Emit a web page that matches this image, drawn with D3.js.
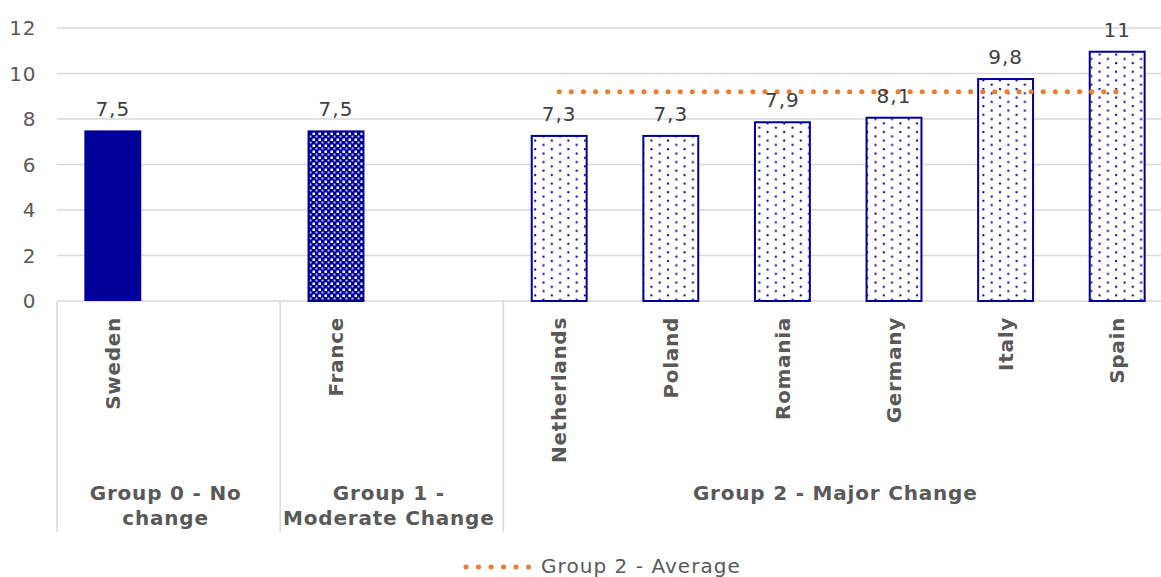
<!DOCTYPE html>
<html><head><meta charset="utf-8">
<script src="https://cdn.jsdelivr.net/npm/d3@7"></script>
<style>body{margin:0;background:#fff;overflow:hidden}svg{display:block}text{font-family:"DejaVu Sans",Verdana,sans-serif}</style>
</head><body><svg id="c" width="1161" height="577"></svg>
<script>
const categories = ["Sweden","","France","","Netherlands","Poland","Romania","Germany","Italy","Spain"];
const values = [7.5,null,7.5,null,7.3,7.3,7.9,8.1,9.8,11];
const labels = ["7,5","","7,5","","7,3","7,3","7,9","8,1","9,8","11"];
const fills = ["solid","","grid","","dots","dots","dots","dots","dots","dots"];
const groups = [["Group 0 - No","change"],["Group 1 -","Moderate Change"],["Group 2 - Major Change"]];
const groupSpans = [[0,1],[2,3],[4,9]];
const avgValue = 9.2;
const avgSpan = [4,9];
const yTicks = [0,2,4,6,8,10,12];
const legendLabel = "Group 2 - Average";

const navy = "#000099", orange = "#ED7D31", grid = "#d9d9d9";
const svg = d3.select("#c");
const defs = svg.append("defs");
const pg = defs.append("pattern").attr("id","pgrid").attr("patternUnits","userSpaceOnUse").attr("width",6).attr("height",6);
pg.append("rect").attr("width",6).attr("height",6).attr("fill",navy);
pg.append("rect").attr("x",0.5).attr("y",0.5).attr("width",2.5).attr("height",2.5).attr("fill","#fff");
pg.append("rect").attr("x",3.5).attr("y",3.5).attr("width",2).attr("height",2).attr("fill","#c8c8ff");
const pd = defs.append("pattern").attr("id","pdots").attr("patternUnits","userSpaceOnUse").attr("width",16.6).attr("height",8.6);
pd.append("rect").attr("width",16.6).attr("height",8.6).attr("fill","#fff");
pd.append("rect").attr("x",3).attr("y",2).attr("width",2).attr("height",2).attr("fill",navy);
pd.append("rect").attr("x",11.3).attr("y",6.3).attr("width",2).attr("height",2).attr("fill",navy);

const x = d3.scaleBand().domain(d3.range(categories.length)).range([57, 57 + 10*111.6]).paddingInner(0.49).paddingOuter(0.245);
const y = d3.scaleLinear().domain([0,12]).range([301,28]);

svg.append("g").selectAll("line").data(yTicks).join("line")
  .attr("x1",57).attr("x2",1161).attr("y1",d=>y(d)).attr("y2",d=>y(d))
  .attr("stroke",grid).attr("stroke-width",1.5);
svg.append("g").selectAll("text").data(yTicks).join("text")
  .attr("x",36).attr("y",d=>y(d)).attr("dy","0.36em").attr("text-anchor","end")
  .attr("font-size",20).attr("letter-spacing",0.6).attr("fill","#595959").text(d=>d);

const idx = d3.range(categories.length).filter(i=>values[i]!==null);
svg.append("g").selectAll("rect").data(idx).join("rect")
  .attr("x",i=>x(i) + (fills[i]==="solid"?0:1)).attr("width",i=>x.bandwidth() - (fills[i]==="solid"?0:2))
  .attr("y",i=>y(values[i]) + (fills[i]==="solid"?0:1)).attr("height",i=>y(0)-y(values[i]) - (fills[i]==="solid"?0:1))
  .attr("fill",i=>fills[i]==="solid"?navy:(fills[i]==="grid"?"url(#pgrid)":"url(#pdots)"))
  .attr("stroke",i=>fills[i]==="solid"?"none":navy).attr("stroke-width",2);

svg.append("line")
  .attr("x1",x(avgSpan[0])+x.bandwidth()/2).attr("x2",x(avgSpan[1])+x.bandwidth()/2)
  .attr("y1",y(avgValue)).attr("y2",y(avgValue))
  .attr("stroke",orange).attr("stroke-width",5).attr("stroke-linecap","round").attr("stroke-dasharray","0.1 12");

svg.append("g").selectAll("text").data(idx).join("text")
  .attr("x",i=>x(i)+x.bandwidth()/2).attr("y",i=>y(values[i])-14).attr("text-anchor","middle")
  .attr("font-size",20).attr("letter-spacing",1).attr("fill","#404040").text(i=>labels[i]);

svg.append("g").selectAll("text").data(idx).join("text")
  .attr("transform",i=>`translate(${x(i)+x.bandwidth()/2},317) rotate(-90)`)
  .attr("text-anchor","end").attr("dy","0.36em")
  .attr("font-size",20).attr("letter-spacing",0.7).attr("font-weight","bold").attr("fill","#595959").text(i=>categories[i]);

const step = x.step();
const divX = [57, ...groupSpans.map(s=>57 + (s[1]+1)*step)];
svg.append("g").selectAll("line").data(divX).join("line")
  .attr("x1",d=>d).attr("x2",d=>d).attr("y1",301).attr("y2",532)
  .attr("stroke",grid).attr("stroke-width",1.5);

groups.forEach((g,gi)=>{
  const cx = 57 + (groupSpans[gi][0] + groupSpans[gi][1] + 1)/2*step - 3;
  const t = svg.append("text").attr("x",cx).attr("y",500).attr("text-anchor","middle")
    .attr("font-size",20).attr("letter-spacing",0.8).attr("font-weight","bold").attr("fill","#595959");
  g.forEach((ln,li)=>t.append("tspan").attr("x",cx).attr("dy",li?25:0).text(ln));
});

svg.append("line").attr("x1",466).attr("x2",529).attr("y1",567).attr("y2",567)
  .attr("stroke",orange).attr("stroke-width",5).attr("stroke-linecap","round").attr("stroke-dasharray","0.1 12.4");
svg.append("text").attr("x",541).attr("y",573).attr("font-size",20).attr("letter-spacing",1.05).attr("fill","#595959").text(legendLabel);
</script></body></html>
